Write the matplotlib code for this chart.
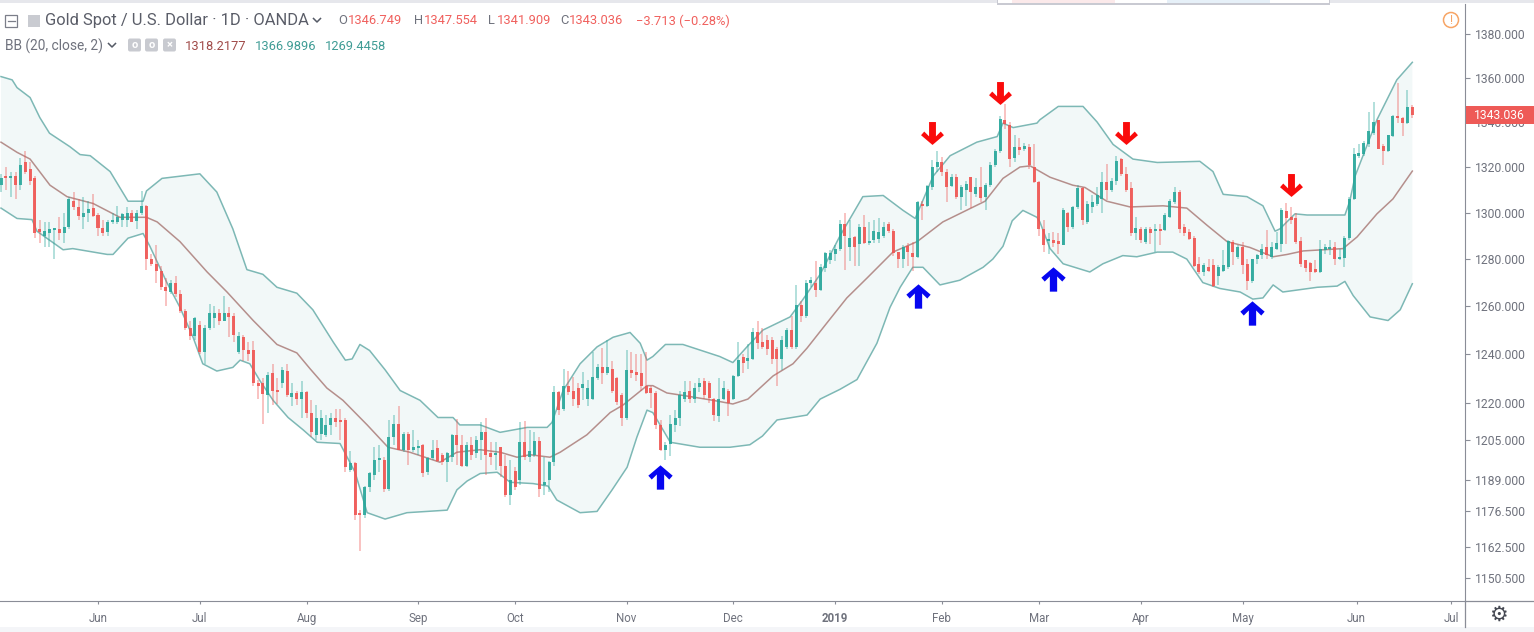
"""
Gold Spot / USD daily candles with Bollinger bands
"""

import numpy as np
import matplotlib
matplotlib.use("Agg")
import matplotlib.pyplot as plt
from matplotlib.path import Path
from matplotlib.patches import Rectangle, Circle, FancyBboxPatch
from matplotlib.lines import Line2D
from matplotlib.ticker import NullLocator

W, H = 1534, 632

# candles, one entry per trading day
opens = [
    1312, 1316, 1315, 1316, 1312, 1322, 1319, 1315, 1293, 1290,
    1291, 1292.5, 1293, 1291, 1294, 1305, 1302.5, 1298, 1300, 1302,
    1299, 1293.5, 1291.5, 1296, 1296, 1297, 1297, 1300, 1296.5, 1300,
    1303, 1280, 1278, 1275, 1268, 1266, 1270, 1265, 1258, 1251,
    1247.5, 1252, 1241, 1251, 1255, 1257, 1254, 1257, 1256, 1241,
    1247, 1241.5, 1241.5, 1228, 1228, 1223, 1232, 1225, 1228, 1233,
    1222.5, 1224, 1221.5, 1224.5, 1216, 1207, 1207.5, 1207, 1211, 1214,
    1213, 1213, 1193, 1195.5, 1175.5, 1175, 1186, 1191, 1197, 1197,
    1185.5, 1206, 1211.5, 1201, 1207.5, 1201, 1201.5, 1203, 1192, 1197.5,
    1201.5, 1199, 1196, 1198, 1207, 1203, 1194.5, 1203, 1199.5, 1205,
    1208, 1199.5, 1199, 1202, 1194.5, 1183, 1192.5, 1189, 1204, 1198,
    1199, 1204.5, 1187, 1189, 1196, 1224.5, 1217.5, 1227, 1225, 1226,
    1226, 1221.5, 1221.5, 1230, 1234.5, 1232, 1234, 1230, 1223, 1214,
    1233.5, 1232.5, 1232, 1227, 1226, 1224, 1211, 1201, 1203.5, 1211,
    1214, 1221.5, 1225, 1221.5, 1226.5, 1229, 1228, 1221.5, 1214.5, 1221.5,
    1225, 1221.5, 1231, 1239, 1237, 1238, 1249, 1245, 1246, 1246,
    1242, 1238, 1243, 1250, 1243, 1260.5, 1256, 1270, 1270, 1267,
    1276, 1279.5, 1282, 1284.5, 1295, 1285, 1289.5, 1286.5, 1294, 1287,
    1288, 1288.5, 1290, 1295, 1292, 1283, 1280, 1285.5, 1282.5, 1281,
    1304, 1303, 1311, 1320, 1322, 1318, 1311.5, 1315.5, 1307, 1310,
    1315.5, 1308, 1311, 1307, 1312, 1321, 1327, 1341, 1338.5, 1324,
    1329, 1328, 1329, 1320, 1313.5, 1293, 1287.7, 1288, 1287.7, 1286,
    1300, 1294, 1302.5, 1310.8, 1296, 1302.5, 1304, 1306, 1313.4, 1309.8,
    1314, 1323.5, 1317, 1310.8, 1291, 1293, 1287.4, 1293, 1292, 1293,
    1292.4, 1298.2, 1304.7, 1309, 1294, 1291.7, 1289, 1278, 1274.4, 1276.5,
    1277.3, 1273, 1275, 1276.5, 1287.4, 1281, 1285, 1278, 1270.8, 1280,
    1281.6, 1285, 1281, 1284.5, 1286.6, 1300.7, 1298, 1297.5, 1287.7, 1279.4,
    1278.4, 1275.8, 1274.4, 1283.8, 1284.5, 1285, 1280, 1280.4, 1289, 1306,
    1325, 1325.7, 1330, 1335, 1340.8, 1329.3, 1327, 1333.6, 1342.6, 1342,
    1339.4, 1346.749,
]
highs = [
    1317, 1320, 1318, 1318, 1324, 1327, 1322, 1316, 1297, 1296,
    1296, 1293.5, 1298, 1300, 1307, 1309, 1306, 1307, 1305, 1308,
    1300, 1297, 1297, 1300, 1303, 1300, 1302.5, 1301, 1301, 1309.5,
    1303.5, 1282, 1286, 1277, 1272, 1271, 1273, 1267, 1259, 1254,
    1255.5, 1254, 1252, 1261, 1260, 1259, 1264.5, 1259.5, 1257, 1249,
    1248, 1245, 1245.5, 1229.5, 1230, 1232.5, 1236, 1230, 1234.5, 1236,
    1228, 1225, 1229, 1225, 1221, 1219, 1217, 1215, 1216, 1217.5,
    1217.5, 1214, 1200.5, 1196, 1177, 1186.5, 1192, 1202, 1203, 1198,
    1213, 1215, 1218.5, 1208, 1208, 1209, 1205, 1203.5, 1198, 1205,
    1205, 1199.5, 1200, 1207.5, 1213.5, 1207, 1204, 1206, 1206.5, 1212,
    1214, 1204, 1204, 1202, 1199, 1197, 1194, 1212, 1212.5, 1209,
    1208, 1206, 1198, 1196.5, 1227, 1225, 1234, 1233, 1230.5, 1228,
    1232.5, 1229.5, 1241, 1236, 1242.5, 1246, 1237, 1230.5, 1224, 1241.5,
    1241, 1240, 1240, 1241, 1227, 1225, 1213, 1204, 1215, 1217,
    1225, 1229, 1229, 1228, 1230, 1230, 1229, 1222, 1230, 1229,
    1225.5, 1231.5, 1245, 1240, 1244, 1251, 1254, 1251, 1248, 1247,
    1243, 1247.5, 1251, 1256, 1269, 1262, 1271, 1272.5, 1279, 1278,
    1283, 1284, 1286, 1297, 1300, 1297, 1290, 1295, 1299, 1296,
    1297, 1297.5, 1296, 1296, 1293, 1283, 1286, 1287, 1287.5, 1305,
    1305, 1312, 1323, 1327, 1324.5, 1319, 1317, 1317, 1312, 1314,
    1315.5, 1315, 1320, 1313, 1322, 1328, 1342.5, 1348, 1340, 1334,
    1333, 1330.5, 1330, 1330, 1314, 1297, 1291, 1291.7, 1291, 1302,
    1300.4, 1303, 1312, 1311, 1305, 1307.6, 1311, 1317.7, 1321.3, 1315,
    1325, 1324, 1320, 1313.4, 1298, 1294, 1294, 1294, 1295, 1295,
    1299.7, 1306, 1311, 1310, 1295, 1293, 1290, 1281, 1278.4, 1280,
    1280, 1277.3, 1283.8, 1288, 1288, 1286, 1287.4, 1280, 1280, 1282,
    1286.6, 1292.4, 1287.4, 1291.7, 1302, 1304.4, 1302.5, 1299.7, 1289.5, 1279.4,
    1278.7, 1279.4, 1288, 1286.6, 1288, 1287.4, 1284.5, 1290, 1307, 1328.6,
    1330, 1331.4, 1344.5, 1348.8, 1341, 1330, 1334.3, 1343, 1357.5, 1342.3,
    1354.5, 1347.554,
]
lows = [
    1309, 1310, 1307, 1306, 1310, 1317, 1312, 1289, 1287, 1285,
    1285, 1280, 1288, 1287, 1293, 1301, 1297, 1293, 1296, 1298,
    1290, 1290, 1290, 1295, 1295, 1294, 1294, 1296, 1293, 1299,
    1275.5, 1277, 1270, 1267, 1260, 1265, 1264, 1257, 1250, 1246,
    1246, 1240, 1236, 1250, 1251, 1252, 1254, 1247, 1245, 1240,
    1237, 1237, 1227, 1221.5, 1211.5, 1216, 1219, 1219.5, 1226, 1222.5,
    1218.5, 1219, 1214, 1214, 1206, 1205, 1205, 1206, 1207, 1210,
    1205, 1192, 1192, 1173, 1161, 1174, 1184, 1189, 1192, 1184,
    1184.5, 1203, 1201, 1200, 1195, 1200, 1199, 1190, 1191, 1197,
    1196, 1195, 1188, 1196, 1195, 1194, 1194, 1197, 1197.5, 1197,
    1191, 1195, 1193, 1190, 1182, 1179, 1185, 1187, 1197, 1196,
    1198, 1182, 1183, 1184, 1194.5, 1215, 1216.5, 1223, 1218.5, 1218,
    1221, 1218.5, 1221, 1229.5, 1227.5, 1231.5, 1224, 1219, 1210.5, 1213,
    1230, 1229, 1225, 1223.5, 1218, 1209.5, 1200.5, 1197, 1198.5, 1208,
    1210.5, 1220.5, 1220, 1220, 1224.5, 1221.5, 1220, 1212.5, 1212, 1221,
    1214.5, 1221, 1230.5, 1232, 1234, 1237.5, 1242, 1242, 1239.5, 1236,
    1227, 1233.5, 1242, 1242, 1242, 1253.5, 1255, 1268, 1264, 1266.5,
    1274.5, 1278, 1279, 1283.5, 1275.5, 1279, 1277, 1277, 1286.5, 1286,
    1287, 1287, 1289, 1291, 1281.5, 1276, 1276, 1277, 1275, 1280.5,
    1297, 1302.5, 1310, 1318, 1316, 1304.5, 1311, 1306, 1301, 1303,
    1302, 1307, 1304.5, 1301, 1311, 1320, 1326, 1337, 1320, 1322,
    1325.5, 1327, 1319, 1313, 1290, 1283, 1282.3, 1285, 1282.3, 1286,
    1291.7, 1293, 1301.8, 1294.6, 1295, 1300, 1303, 1300, 1305.4, 1309,
    1312, 1316, 1309, 1290, 1288, 1287, 1286.6, 1286.6, 1283, 1286,
    1292, 1297.5, 1304, 1291, 1290, 1288, 1276.5, 1273.6, 1273, 1274.4,
    1268, 1269, 1274.4, 1275.8, 1277.3, 1280, 1273.6, 1267, 1270, 1278,
    1280, 1280, 1280, 1283.8, 1283, 1286.6, 1295, 1286.6, 1276.5, 1274.4,
    1270.8, 1274, 1274, 1282, 1281.6, 1277.3, 1279.4, 1276.5, 1288, 1305.4,
    1324, 1325, 1329, 1334.3, 1327.8, 1321, 1326.7, 1333.3, 1339.4, 1333.6,
    1339, 1341.909,
]
closes = [
    1315, 1315, 1316, 1312, 1321, 1318, 1314, 1291, 1291.5, 1292,
    1293, 1293, 1291, 1294, 1306, 1302.5, 1298.5, 1300, 1301.5, 1298.5,
    1293.5, 1291, 1296, 1297, 1298, 1299.5, 1300, 1296, 1300, 1303,
    1280, 1278, 1275, 1268, 1266.5, 1270, 1265, 1258, 1251, 1247.5,
    1255, 1241, 1251, 1257, 1257, 1254, 1257, 1255.5, 1248, 1247.5,
    1241.5, 1240, 1228, 1227, 1223.5, 1231.5, 1225, 1224.5, 1233.5, 1223,
    1224, 1221.5, 1224.5, 1216, 1208, 1214, 1214, 1211, 1214, 1212,
    1212, 1194, 1195.5, 1175, 1175, 1186, 1191.5, 1197, 1197.5, 1185.5,
    1206, 1211.5, 1201, 1207.5, 1201, 1202, 1202.5, 1191.5, 1197.5, 1201,
    1196.5, 1196, 1199.5, 1207, 1203, 1194.5, 1203, 1199, 1205, 1208,
    1199, 1198, 1199.5, 1194.5, 1183, 1189, 1186, 1204, 1198, 1200.5,
    1204.5, 1185.5, 1188, 1196, 1224.5, 1217, 1227, 1224.5, 1221.5, 1219,
    1227.5, 1226, 1230.5, 1234.5, 1232, 1234.5, 1225, 1220.5, 1214, 1233.5,
    1232, 1231.5, 1227, 1224, 1224, 1211, 1201, 1203, 1211.5, 1214,
    1223, 1224.5, 1221.5, 1226, 1228, 1223, 1222, 1215, 1221.5, 1226,
    1220, 1231, 1237.5, 1236.5, 1238.5, 1249, 1244.5, 1243, 1242, 1238,
    1238, 1246, 1250, 1243, 1260.5, 1256, 1270, 1271, 1267, 1276.5,
    1282.5, 1282.5, 1284.5, 1295, 1290, 1289, 1285, 1294, 1287, 1287.5,
    1292, 1291.5, 1294, 1292, 1282.5, 1280, 1285, 1283, 1281, 1304.5,
    1303, 1311.5, 1320, 1322, 1318, 1311, 1315.5, 1307, 1311, 1312.5,
    1309, 1311, 1306.5, 1312, 1321, 1327, 1341.5, 1339, 1323.5, 1329,
    1327.5, 1329.5, 1321, 1313.5, 1293, 1286, 1288.8, 1287, 1286.6, 1301,
    1294, 1302.5, 1310.8, 1296.8, 1304, 1304.7, 1307.6, 1313.4, 1309.8, 1314,
    1322.8, 1317, 1309.8, 1291, 1293.4, 1288, 1293, 1291, 1293, 1292,
    1299, 1305, 1309, 1293, 1291, 1288.8, 1277, 1274.4, 1277.3, 1275,
    1268.6, 1276.5, 1277.5, 1287.7, 1283, 1285, 1277.3, 1270.8, 1280, 1281.6,
    1284.5, 1281.6, 1285, 1287, 1301, 1297.5, 1296.8, 1287.4, 1278, 1276,
    1274.4, 1274.4, 1284.5, 1285, 1285, 1280, 1280.7, 1289, 1306, 1325.7,
    1326.4, 1330.7, 1335.8, 1340, 1328, 1327, 1334, 1342.6, 1342, 1339.4,
    1346.6, 1343.036,
]

# Bollinger band lines, read at the bars where they bend
upper_bar = [
    0, 2.3, 3.3, 6, 8, 10, 14.2, 16.3, 18.4, 22.5, 26.2, 29.3, 30, 33.2, 41, 44.5,
    47.8, 50.7, 54, 56.9, 61, 64.3, 68.5, 71, 72.4, 74, 76, 79.2, 82.3, 86.4, 90.1,
    93.2, 94.6, 98.8, 102.9, 108.5, 112.6, 113.6, 115.9, 119.4, 122.9, 126.2, 129.7,
    131.8, 133.2, 134.4, 137, 140.6, 148.2, 150.9, 153.8, 157.1, 162.7, 165.4, 168.9,
    173, 177.7, 181.9, 186, 188.5, 192.2, 195.7, 201.2, 205.4, 206.6, 208.7, 213.6,
    214.2, 218, 223.1, 226, 229.3, 233.4, 238.4, 247.2, 249.9, 252, 256.9, 260.2,
    262.7, 263.7, 266.8, 269.3, 277.1, 278.1, 279.2, 283.7, 287.8, 291,
]
upper_val = [
    1360.5, 1359, 1355.5, 1351, 1342, 1335, 1329, 1325.5, 1325, 1318, 1305, 1305, 1309.5,
    1315, 1317, 1309, 1293, 1275.5, 1273.5, 1268, 1265.5, 1258.5, 1245, 1237.5, 1238,
    1244, 1241.5, 1233.5, 1225, 1221, 1214, 1214, 1211, 1211, 1208, 1210, 1210, 1212,
    1225, 1236, 1243, 1247, 1249, 1244.5, 1237.5, 1239, 1244, 1244, 1239, 1236.5, 1243,
    1250, 1255.5, 1263, 1273.5, 1290, 1307, 1307.5, 1301, 1297.5, 1316, 1325, 1331,
    1333.5, 1339.5, 1337.5, 1339.5, 1341, 1347, 1347, 1340, 1330, 1323.5, 1322, 1322.5,
    1318, 1308, 1307, 1303, 1292, 1293, 1299.5, 1299, 1299, 1305, 1316, 1341, 1359, 1367,
]
lower_bar = [
    0, 3.3, 6.4, 7.4, 12.8, 14.8, 21.9, 23.1, 26.2, 29.3, 30.7, 34.2, 36.9, 39.6, 41.6,
    44.5, 47.8, 49.3, 51.3, 53.4, 56.1, 59.2, 62.3, 65.2, 69.9, 73, 75.5, 79.2, 83.7, 92,
    94, 96.1, 98.8, 102.3, 105, 109.7, 112.8, 114.6, 119.4, 122.9, 126, 129.1, 131.1,
    133.2, 134.4, 138, 144.1, 150.3, 154.4, 157, 160, 166.2, 168.9, 173, 176.5, 180.6,
    183.3, 185.4, 188, 190.1, 193.6, 197.7, 202.5, 204.5, 206.6, 208.5, 210.7, 213.6,
    214.2, 216.3, 219, 224.5, 227.2, 231.3, 234.2, 238.4, 241.6, 244.5, 247.8, 251.3,
    255.5, 258.1, 260.2, 262.3, 264.3, 271.4, 275.5, 277.1, 278.8, 282.3, 286, 288.5, 291,
]
lower_val = [
    1302, 1297.5, 1297, 1292, 1284, 1284.5, 1282, 1282, 1289, 1291, 1285.5, 1270, 1259.5,
    1247, 1236, 1233, 1234.5, 1237.5, 1236, 1229, 1221, 1214, 1209, 1204, 1203.5, 1192,
    1176, 1173.5, 1176, 1177, 1185, 1188.5, 1191.5, 1192, 1188, 1187.5, 1186.5, 1181, 1176,
    1176.5, 1185, 1194, 1206, 1217, 1216, 1204, 1202, 1202, 1203, 1206.5, 1213, 1215,
    1221.5, 1225.5, 1229.5, 1244.5, 1259.5, 1268, 1276.5, 1276.5, 1269, 1271, 1276.5, 1280,
    1285.5, 1296.5, 1301, 1298, 1296, 1284.5, 1278, 1274.5, 1278, 1281.5, 1281, 1283, 1283,
    1280, 1270, 1267.5, 1266, 1263, 1263.5, 1269, 1266, 1268, 1268.5, 1270.5, 1264.5,
    1255.5, 1254, 1258.5, 1269.5,
]
mid_bar = [
    0, 3.3, 6, 10.1, 13.6, 19, 24.5, 30, 32.2, 36.9, 42.5, 46.6, 52, 56.9, 61, 63.7, 67.2,
    70.5, 75.5, 79.8, 84.3, 90.5, 94, 98.8, 102.9, 106.4, 109.1, 113.2, 115.3, 120.8,
    125.6, 128.2, 133.2, 134.4, 137.3, 140.6, 146.8, 150.9, 154, 159.2, 163.3, 166.2,
    170.3, 174.4, 178.6, 183.9, 188.9, 194.2, 202.9, 206.6, 210.1, 212.2, 216.3, 221,
    223.5, 228, 232.8, 239.6, 244.5, 248.7, 252.8, 257.5, 262.3, 265.2, 268.5, 276.7,
    279.6, 283.7, 287, 291,
]
mid_val = [
    1331, 1326.5, 1323.5, 1312, 1307, 1304, 1298, 1298, 1296, 1287.5, 1274.5, 1266, 1254,
    1244, 1240.5, 1234, 1226, 1221, 1211, 1202, 1200, 1196, 1200, 1201, 1200, 1198, 1199,
    1198, 1200, 1207, 1216, 1219, 1227, 1227, 1224, 1223, 1221, 1219.5, 1221.5, 1231, 1236,
    1242.5, 1253, 1263.5, 1272, 1283, 1287.5, 1296, 1305, 1315, 1320, 1320.5, 1315.5, 1312,
    1311, 1305, 1302.5, 1303, 1302, 1294.5, 1287.5, 1285, 1281, 1282, 1283.5, 1284.5,
    1289.5, 1299.5, 1306, 1318.2,
]

# hand drawn arrows on the chart
down_bar = [192, 206, 232, 266]
down_val = [1335, 1353, 1335, 1312]
up_bar = [135.8, 189, 217, 258]
up_val = [1190, 1264.5, 1271.5, 1257]

# axis labels
price_ticks = [1380, 1360, 1340, 1320, 1300, 1280, 1260, 1240, 1220, 1205, 1189, 1176.5, 1162.5, 1150.5]
month_bars = [20, 41, 63, 86, 106, 129, 151, 172, 194, 214, 235, 256, 279.5, 299]
month_labels = ["Jun", "Jul", "Aug", "Sep", "Oct", "Nov", "Dec", "2019", "Feb", "Mar", "Apr", "May", "Jun", "Jul"]

RED = "#ef5350"
TEAL = "#26a69a"
GREY = "#6f727d"
AXIS = "#8a8d97"

plt.rcParams["font.family"] = ["Roboto", "DejaVu Sans"]


def fx(px):
    return px / W


def fy(py):
    return 1 - py / H


def label(px, py, s, color=GREY, size=9.3, **kw):
    kw.setdefault("ha", "left")
    fig.text(fx(px), fy(py), s, color=color, fontsize=size, va="center", **kw)


def chevron(px, py):
    fig.add_artist(Line2D([fx(px - 3.5), fx(px), fx(px + 3.5)], [fy(py - 1.5), fy(py + 2), fy(py - 1.5)],
                          color="#555a66", lw=1.1))


def grey_button(px, py, s):
    fig.add_artist(FancyBboxPatch((px, H - py - 6.5), 13, 13, boxstyle="round,pad=0,rounding_size=2",
                                  transform=None, fc="#c8cad0", ec="none"))
    fig.text(fx(px + 6.5), fy(py), s, color="white", fontsize=8, ha="center", va="center", weight="bold")


fig = plt.figure(figsize=(W / 100, H / 100), dpi=100, facecolor="white")
ax = fig.add_axes([0, 1 - 601 / H, 1465 / W, (601 - 4) / H])
ax.set_yscale("log")
ax.set_xlim(-0.206, 301.86)
ax.set_ylim(1141.8, 1393.9)

# band fill and lines
ax.fill(upper_bar + lower_bar[::-1], upper_val + lower_val[::-1], color="#f2f8f8", lw=0, zorder=1)
ax.plot(upper_bar, upper_val, color="#7db8b5", lw=1.1, zorder=2)
ax.plot(lower_bar, lower_val, color="#7db8b5", lw=1.1, zorder=2)
ax.plot(mid_bar, mid_val, color="#b58f8c", lw=1.1, zorder=2)

# candles
bars = np.arange(len(closes))
o = np.array(opens)
c = np.array(closes)
colors = [TEAL if b >= a else RED for a, b in zip(opens, closes)]
ax.vlines(bars, lows, highs, colors=colors, lw=1.1, alpha=0.45, zorder=3)
ax.bar(bars, np.maximum(np.abs(c - o), 0.8), bottom=np.minimum(o, c), width=0.62, color=colors, lw=0, alpha=0.88, zorder=4)

# arrows
arrow_up = Path([(0, 1), (1, 0.15), (0.72, -0.17), (0.3, 0.25), (0.3, -1), (-0.3, -1),
                 (-0.3, 0.25), (-0.72, -0.17), (-1, 0.15), (0, 1)], closed=True)
arrow_down = Path([(x, -y) for x, y in arrow_up.vertices], closed=True)
ax.plot(down_bar, down_val, ls="none", marker=arrow_down, ms=16.5, mfc="#fa0b0b", mec="none", zorder=6)
ax.plot(up_bar, up_val, ls="none", marker=arrow_up, ms=17.5, mfc="#0606f0", mec="none", zorder=6)

# axes
for side in ["top", "left"]:
    ax.spines[side].set_visible(False)
ax.spines["right"].set_color(AXIS)
ax.spines["bottom"].set_color(AXIS)
ax.yaxis.tick_right()
ax.yaxis.set_minor_locator(NullLocator())
ax.set_yticks(price_ticks)
ax.set_yticklabels([f"{v:.3f}" for v in price_ticks], fontsize=8.7, color=GREY)
ax.tick_params(axis="y", length=3.5, width=0.8, color=AXIS, pad=3.8)
ax.set_xticks(month_bars)
ax.set_xticklabels(month_labels, fontsize=8.3, color=GREY)
ax.tick_params(axis="x", length=2.5, width=0.8, color=AXIS, pad=5.5)
ax.get_xticklabels()[7].set_fontweight("bold")

# axis lines past the plot area, bottom strip, top strip
fig.add_artist(Line2D([fx(1465), 1], [fy(601), fy(601)], color=AXIS, lw=0.9))
fig.add_artist(Line2D([fx(1465), fx(1465)], [fy(601), fy(627)], color=AXIS, lw=0.9))
fig.add_artist(Rectangle((0, 0), 1, 5 / H, transform=fig.transFigure, fc="#f4f5f8", ec="none"))
fig.add_artist(Rectangle((0, fy(3)), 1, 3 / H, transform=fig.transFigure, fc="#e6e7ec", ec="none"))
fig.add_artist(Rectangle((fx(997), fy(5)), 333 / W, 5 / H, transform=fig.transFigure, fc="#c9cad2", ec="none"))
fig.add_artist(Rectangle((fx(998), fy(3)), 331 / W, 3 / H, transform=fig.transFigure, fc="white", ec="none"))
fig.add_artist(Rectangle((fx(1012), fy(3)), 103 / W, 3 / H, transform=fig.transFigure, fc="#fbe9ea", ec="none"))
fig.add_artist(Rectangle((fx(1167), fy(3)), 103 / W, 3 / H, transform=fig.transFigure, fc="#e6f0f8", ec="none"))

# last price flag
fig.canvas.draw()
last_y = ax.transData.transform((0, closes[-1]))[1]
fig.add_artist(Rectangle((1466, last_y - 9), 68, 18, transform=None, fc="#ee5a57", ec="none", zorder=5))
fig.text(fx(1499), last_y / H, f"{closes[-1]:.3f}", color="white", fontsize=8.7, ha="center", va="center", zorder=6)

# header row
fig.add_artist(Rectangle((5, H - 27), 12, 12, transform=None, fc="white", ec="#7b7e89", lw=0.9))
fig.add_artist(Line2D([fx(7.5), fx(14.5)], [fy(21), fy(21)], color="#7b7e89", lw=0.9))
fig.add_artist(Rectangle((28, H - 27), 12, 12, transform=None, fc="#c9cbd1", ec="none"))
label(45, 21, "Gold Spot / U.S. Dollar · 1D · OANDA", color="#5a5d68", size=11.9)
chevron(317, 20)
for px, s in zip([338, 414, 488, 560], "OHLC"):
    label(px, 21, s)
for px, s in zip([348, 424, 497, 569], ["1346.749", "1347.554", "1341.909", "1343.036"]):
    label(px, 21, s, color="#f0605d")
label(636, 21, "−3.713 (−0.28%)", color="#f0605d")

# indicator row
label(5, 46, "BB (20, close, 2)", size=9.9)
chevron(112, 45)
grey_button(128, 45, "o")
grey_button(145, 45, "o")
grey_button(163, 45, "×")
label(185, 46, "1318.2177", color="#a04a48")
label(255, 46, "1366.9896", color="#3f9c95")
label(325, 46, "1269.4458", color="#3f9c95")

# warning and settings icons
fig.add_artist(Circle((1451, H - 20), 7.5, transform=None, fc="white", ec="#f7a566", lw=1.1))
fig.text(fx(1451), fy(20), "!", color="#f7a566", fontsize=8.5, ha="center", va="center")
fig.text(fx(1498), fy(615), "⚙", color="#454852", fontsize=15, ha="center", va="center", family="DejaVu Sans")

fig.savefig("out.png", dpi=100)
